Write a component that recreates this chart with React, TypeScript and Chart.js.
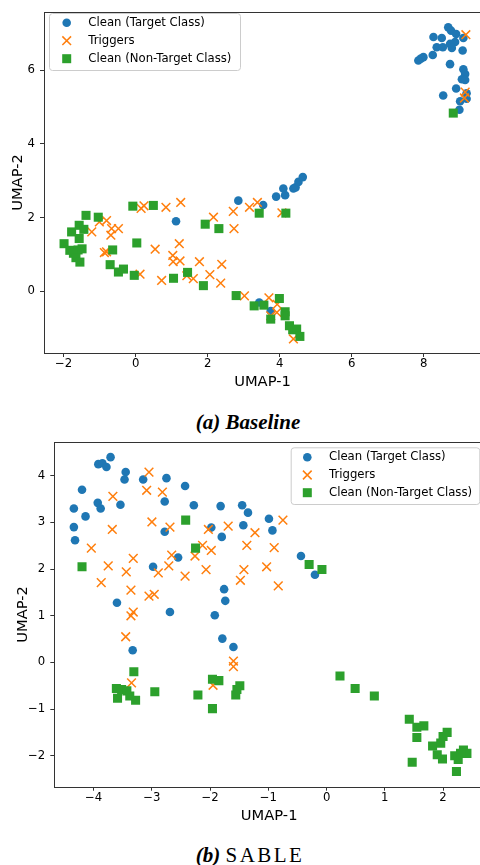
import React, { useEffect, useRef } from 'react';
import { Chart, registerables } from 'chart.js';

Chart.register(...registerables);

type Pt = [number, number];

const seriesNames = ['Clean (Target Class)', 'Triggers', 'Clean (Non-Target Class)'];
const seriesColors = ['#1f77b4', '#ff7f0e', '#2ca02c'];

// ---------- (a) Baseline ----------
const baselineTarget: Pt[] = [
  [8.68, 7.17], [8.76, 7.08], [8.90, 6.99], [8.27, 6.91], [8.50, 6.88], [9.10, 6.88],
  [8.87, 6.77], [8.73, 6.72], [8.36, 6.63], [8.53, 6.63], [8.78, 6.61], [9.08, 6.54],
  [8.25, 6.42], [7.99, 6.36], [7.92, 6.32], [7.85, 6.27], [8.73, 6.17], [9.10, 6.03],
  [9.15, 5.90], [9.06, 5.76], [9.15, 5.74], [8.90, 5.51], [9.19, 5.38], [8.54, 5.32],
  [9.19, 5.23], [9.01, 5.16], [8.99, 4.93],
  [1.12, 1.90], [2.85, 2.46], [3.54, 2.34], [3.90, 2.57], [4.10, 2.79], [4.15, 2.61],
  [4.38, 2.79], [4.44, 2.82], [4.52, 2.97], [4.64, 3.10], [3.43, -0.31], [3.75, -0.54],
];
const baselineTriggers: Pt[] = [
  [0.15, 2.25], [0.23, 2.32], [0.84, 2.28], [1.25, 2.41], [2.16, 2.01], [2.71, 2.17],
  [3.16, 2.28], [3.38, 2.41], [4.06, 2.13], [2.73, 1.70],
  [-1.01, 1.88], [-0.81, 1.92], [-1.22, 1.61], [-0.67, 1.70], [-0.48, 1.70], [-0.69, 1.52],
  [-0.87, 1.05], [-0.81, 1.07],
  [0.54, 1.14], [1.21, 1.29], [1.03, 0.97], [1.04, 0.80], [1.23, 0.82], [1.77, 0.80], [2.39, 0.73],
  [0.12, 0.46], [0.72, 0.29], [1.42, 0.42], [1.60, 0.34], [2.06, 0.45], [2.36, 0.22],
  [3.02, -0.13], [3.70, -0.18], [3.93, -0.36], [3.92, -0.58], [3.75, -0.67], [4.38, -1.30],
  [9.17, 6.97], [9.15, 5.41], [9.13, 5.25],
];
const baselineNonTarget: Pt[] = [
  [-1.38, 2.06], [-1.04, 2.01], [-0.08, 2.31], [0.49, 2.33], [-1.57, 1.79], [-1.78, 1.61],
  [-1.44, 1.68], [-1.57, 1.43], [-1.99, 1.29], [-1.83, 1.11], [-1.60, 1.12], [-1.49, 1.15],
  [-1.73, 1.03], [-1.66, 0.91], [-1.55, 0.79], [0.03, 1.31], [-0.64, 1.12], [-0.71, 0.72],
  [-0.48, 0.52], [-0.34, 0.60], [-0.04, 0.43], [1.05, 0.35], [1.44, 0.51], [1.88, 0.15],
  [2.31, 1.70], [1.93, 1.82], [2.79, -0.12], [3.29, -0.40], [3.56, -0.38], [3.75, -0.76],
  [3.99, -0.20], [4.15, -0.56], [4.15, -0.67], [4.27, -0.94], [4.36, -1.05], [4.47, -1.03],
  [4.56, -1.23], [3.43, 2.12], [4.17, 2.12], [8.82, 4.84],
];
const baselineXTicks = [-2, 0, 2, 4, 6, 8];
const baselineYTicks = [0, 2, 4, 6];

// ---------- (b) SABLE ----------
const sableTarget: Pt[] = [
  [-3.71, 4.40], [-3.92, 4.25], [-3.85, 4.27], [-3.78, 4.19], [-3.45, 4.08], [-3.47, 3.92],
  [-3.15, 3.92], [-2.75, 3.95], [-2.43, 3.78], [-4.20, 3.70], [-3.93, 3.42], [-3.88, 3.30],
  [-3.54, 3.38], [-4.34, 3.30], [-4.14, 3.13], [-2.78, 3.45], [-2.28, 3.37], [-1.82, 3.35],
  [-1.45, 3.37], [-1.35, 3.21], [-4.34, 2.90], [-4.32, 2.62], [-2.78, 2.80], [-1.98, 2.89],
  [-1.43, 2.94], [-1.80, 2.69], [-2.55, 2.25], [-2.98, 2.05], [-3.60, 1.28], [-2.69, 1.08],
  [-1.76, 1.57], [-1.74, 1.32], [-1.92, 1.01], [-1.79, 0.51], [-1.60, 0.33], [-3.33, 0.26],
  [-0.99, 3.08], [-0.93, 2.83], [-0.44, 2.28], [-0.20, 1.88],
];
const sableTriggers: Pt[] = [
  [-3.05, 4.08], [-3.67, 3.56], [-3.09, 3.69], [-2.82, 3.65], [-3.68, 2.85], [-3.00, 3.01],
  [-2.69, 2.90], [-2.03, 2.85], [-1.69, 2.92], [-1.23, 2.78], [-0.75, 3.05], [-4.04, 2.45],
  [-2.13, 2.51], [-1.98, 2.40], [-1.37, 2.51], [-0.90, 2.46], [-3.32, 2.23], [-2.66, 2.30],
  [-2.26, 2.28], [-3.75, 2.07], [-2.71, 2.07], [-3.44, 1.94], [-2.89, 1.92], [-2.43, 1.85],
  [-2.07, 1.99], [-1.42, 1.99], [-1.03, 2.05], [-3.87, 1.71], [-3.36, 1.55], [-1.48, 1.76],
  [-0.83, 1.64], [-3.05, 1.42], [-2.96, 1.46], [-3.32, 1.08], [-3.36, 1.00], [-3.45, 0.55],
  [-1.60, 0.03], [-1.60, -0.09], [-3.35, -0.44], [-1.95, -0.49],
];
const sableNonTarget: Pt[] = [
  [-4.20, 2.05], [-2.42, 3.05], [-2.25, 2.45], [-0.30, 2.10], [-0.08, 1.99],
  [-3.31, -0.20], [-3.61, -0.56], [-3.52, -0.58], [-3.43, -0.61], [-3.59, -0.77], [-3.38, -0.72],
  [-3.28, -0.81], [-2.95, -0.63], [-2.21, -0.70], [-1.96, -0.36], [-1.85, -0.39], [-1.96, -0.99],
  [-1.49, -0.50], [-1.54, -0.58], [-1.56, -0.70], [0.23, -0.29], [0.49, -0.56], [0.82, -0.72],
  [1.42, -1.22], [1.55, -1.39], [1.67, -1.36], [1.55, -1.61], [1.47, -2.14], [1.82, -1.79],
  [1.96, -1.73], [2.00, -1.59], [2.07, -1.50], [1.90, -1.98], [1.99, -2.07], [2.20, -2.00],
  [2.26, -2.08], [2.35, -1.88], [2.41, -1.95], [2.30, -1.95], [2.23, -2.34],
];
const sableXTicks = [-4, -3, -2, -1, 0, 1, 2];
const sableYTicks = [-2, -1, 0, 1, 2, 3, 4];

const FONT = '"DejaVu Sans", sans-serif';
const TICK_SIZE = 11.7;
const TITLE_SIZE = 14.7;

interface LegendBox { x: number; y: number; w: number; h: number; markerX: number; textX: number; rows: number[] }

interface PanelCfg {
  top: number;
  target: Pt[]; triggers: Pt[]; nonTarget: Pt[];
  xTicks: number[]; yTicks: number[];
  xMin: number; xMax: number; yMin: number; yMax: number;
  padTop: number; padRight: number; yAxisWidth: number; xAxisHeight: number;
  yTitlePad: number; xTitlePad: number; xTickPad: number;
  legend: LegendBox;
}

const fmt = (v: number) => (v < 0 ? '\u2212' + Math.abs(v) : String(v));

function drawMarker(ctx: CanvasRenderingContext2D, i: number, x: number, y: number) {
  const c = seriesColors[i];
  ctx.save();
  if (i === 0) {
    ctx.fillStyle = c;
    ctx.beginPath();
    ctx.arc(x, y, 4.3, 0, Math.PI * 2);
    ctx.fill();
  } else if (i === 1) {
    ctx.strokeStyle = c;
    ctx.lineWidth = 1.5;
    const h = 4.35;
    ctx.beginPath();
    ctx.moveTo(x - h, y - h); ctx.lineTo(x + h, y + h);
    ctx.moveTo(x - h, y + h); ctx.lineTo(x + h, y - h);
    ctx.stroke();
  } else {
    ctx.fillStyle = c;
    ctx.fillRect(x - 4.5, y - 4.5, 9, 9);
  }
  ctx.restore();
}

const mplPlugin = {
  id: 'mplFrame',
  afterDatasetsDraw(chart: any, _args: any, opts: any) {
    const { ctx, chartArea } = chart;
    ctx.save();
    ctx.strokeStyle = '#333';
    ctx.lineWidth = 1;
    ctx.strokeRect(
      Math.round(chartArea.left) + 0.5,
      Math.round(chartArea.top) + 0.5,
      Math.round(chartArea.right - chartArea.left),
      Math.round(chartArea.bottom - chartArea.top)
    );
    const lg: LegendBox = opts.box;
    if (lg) {
      ctx.beginPath();
      (ctx as any).roundRect(lg.x + 0.5, lg.y + 0.5, lg.w, lg.h, 3);
      ctx.fillStyle = 'rgba(255,255,255,0.85)';
      ctx.fill();
      ctx.strokeStyle = '#cccccc';
      ctx.lineWidth = 1;
      ctx.stroke();
      chart.data.datasets.forEach((ds: any, i: number) => {
        const y = lg.rows[i];
        drawMarker(ctx, i, lg.markerX, y);
        ctx.fillStyle = '#000';
        ctx.font = `${TICK_SIZE}px ${FONT}`;
        ctx.textBaseline = 'middle';
        ctx.textAlign = 'left';
        ctx.fillText(ds.label, lg.textX, y);
      });
    }
    ctx.restore();
  },
};

const toXY = (pts: Pt[]) => pts.map(([x, y]) => ({ x, y }));

function Panel({ cfg }: { cfg: PanelCfg }) {
  const ref = useRef<HTMLCanvasElement | null>(null);
  useEffect(() => {
    if (!ref.current) return;
    const tickFont = { family: FONT, size: TICK_SIZE, lineHeight: 1.2 };
    const titleFont = { family: FONT, size: TITLE_SIZE, lineHeight: 1.2 };
    const chart = new Chart(ref.current, {
      type: 'scatter',
      data: {
        datasets: [
          {
            label: seriesNames[0], data: toXY(cfg.target), order: 2,
            pointStyle: 'circle', pointRadius: 4.3, backgroundColor: seriesColors[0],
            borderColor: seriesColors[0], borderWidth: 0,
          },
          {
            label: seriesNames[1], data: toXY(cfg.triggers), order: 1,
            pointStyle: 'crossRot', pointRadius: 6.15, backgroundColor: seriesColors[1],
            borderColor: seriesColors[1], borderWidth: 1.5,
          },
          {
            label: seriesNames[2], data: toXY(cfg.nonTarget), order: 0,
            pointStyle: 'rect', pointRadius: 6.4, backgroundColor: seriesColors[2],
            borderColor: seriesColors[2], borderWidth: 0,
          },
        ],
      } as any,
      options: {
        animation: false,
        responsive: false,
        devicePixelRatio: 1,
        events: [],
        layout: { padding: { top: cfg.padTop, right: cfg.padRight, left: 0, bottom: 0 } },
        plugins: {
          legend: { display: false },
          tooltip: { enabled: false },
          mplFrame: { box: cfg.legend },
        } as any,
        scales: {
          x: {
            type: 'linear',
            min: cfg.xMin, max: cfg.xMax,
            afterBuildTicks: (s: any) => { s.ticks = cfg.xTicks.map((v) => ({ value: v })); },
            afterFit: (s: any) => { s.height = cfg.xAxisHeight; },
            grid: { display: true, drawOnChartArea: false, drawTicks: true, tickLength: 4, color: '#333', lineWidth: 1 },
            border: { display: false },
            ticks: {
              font: tickFont, color: '#000', padding: cfg.xTickPad, maxRotation: 0, minRotation: 0,
              autoSkip: false, callback: (v: any) => fmt(Number(v)),
            },
            title: { display: true, text: 'UMAP-1', font: titleFont, color: '#000', padding: { top: 0, bottom: cfg.xTitlePad } },
          },
          y: {
            type: 'linear',
            min: cfg.yMin, max: cfg.yMax,
            afterBuildTicks: (s: any) => { s.ticks = cfg.yTicks.map((v) => ({ value: v })); },
            afterFit: (s: any) => { s.width = cfg.yAxisWidth; },
            grid: { display: true, drawOnChartArea: false, drawTicks: true, tickLength: 4, color: '#333', lineWidth: 1 },
            border: { display: false },
            ticks: {
              font: tickFont, color: '#000', padding: 5, autoSkip: false,
              callback: (v: any) => fmt(Number(v)),
            },
            title: { display: true, text: 'UMAP-2', font: titleFont, color: '#000', padding: { top: cfg.yTitlePad, bottom: 0 } },
          },
        } as any,
      },
      plugins: [mplPlugin as any],
    });
    return () => chart.destroy();
  }, [cfg]);
  return (
    <canvas
      ref={ref}
      width={500}
      height={400}
      style={{ position: 'absolute', left: 0, top: cfg.top, width: 500, height: 400 }}
    />
  );
}

const panelA: PanelCfg = {
  top: 0,
  target: baselineTarget, triggers: baselineTriggers, nonTarget: baselineNonTarget,
  xTicks: baselineXTicks, yTicks: baselineYTicks,
  xMin: -2.547, xMax: 9.59, yMin: -1.681, yMax: 7.587,
  padTop: 7, padRight: 19, yAxisWidth: 44, xAxisHeight: 47,
  yTitlePad: 9.2, xTitlePad: 9.5, xTickPad: 0,
  legend: { x: 49, y: 13, w: 191, h: 57, markerX: 66.7, textX: 88.3, rows: [22.7, 40.7, 58.7] },
};

const panelB: PanelCfg = {
  top: 430,
  target: sableTarget, triggers: sableTriggers, nonTarget: sableNonTarget,
  xTicks: sableXTicks, yTicks: sableYTicks,
  xMin: -4.676, xMax: 2.703, yMin: -2.664, yMax: 4.724,
  padTop: 11.7, padRight: 16, yAxisWidth: 54.3, xAxisHeight: 43.3,
  yTitlePad: 14.5, xTitlePad: 5.5, xTickPad: 0.6,
  legend: { x: 290.7, y: 17.3, w: 188.6, h: 56.7, markerX: 307.3, textX: 329, rows: [27.3, 45, 62.7] },
};

const captionStyle: React.CSSProperties = {
  position: 'absolute', left: 0, width: 496, textAlign: 'center',
  fontFamily: '"Liberation Serif", "Times New Roman", serif', fontSize: 21, lineHeight: '24px', color: '#000',
};

export default function App() {
  useEffect(() => {
    document.body.style.margin = '0';
  }, []);
  return (
    <div style={{ position: 'fixed', left: 0, top: 0, width: 480, height: 865, overflow: 'hidden', background: '#fff' }}>
      <Panel cfg={panelA} />
      <div style={{ ...captionStyle, top: 409.7 }}>
        <b><i>(a) Baseline</i></b>
      </div>
      <Panel cfg={panelB} />
      <div style={{ ...captionStyle, top: 843, width: 500 }}>
        <b><i>(b)</i></b> <span style={{ letterSpacing: '2.4px' }}>SABLE</span>
      </div>
    </div>
  );
}
